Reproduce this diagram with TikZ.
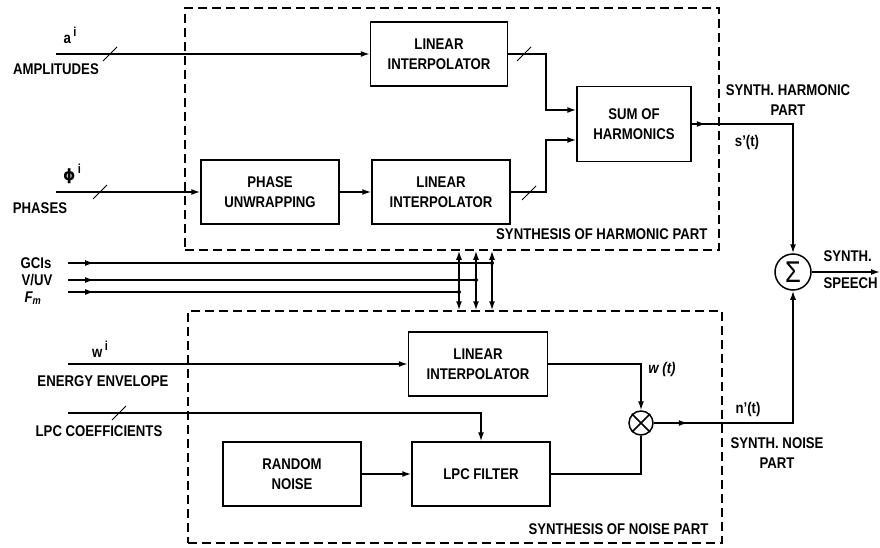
\documentclass[tikz,border=0pt]{standalone}
\usepackage{fontspec}
\setmainfont{Liberation Sans}[FakeStretch=0.85]
\newfontfamily\grkfont{DejaVu Sans}
\usetikzlibrary{arrows.meta,decorations.markings}

\newcommand{\upi}{\,\raisebox{7pt}{\fontsize{13}{13}\selectfont i}}
\tikzset{
  blk/.style={draw,line width=1.5pt,align=center,minimum width=138pt,minimum height=64pt,inner sep=0pt},
  grp/.style={draw,line width=1.5pt,dash pattern=on 9pt off 5pt,inner sep=0pt},
  wire/.style={line width=1.5pt},
  sig/.style={wire,-{Latex[length=9pt,width=6pt]}},
  ctrl/.style={wire,{Latex[length=9pt,width=6pt]}-{Latex[length=9pt,width=6pt]}},
  midarrow/.style={postaction={decorate},decoration={markings,mark=at position #1 with {\arrow{Latex[length=9pt,width=6pt]}}}},
  junc/.style={circle,fill,inner sep=0pt,minimum size=4pt},
}

\begin{document}
\begin{tikzpicture}[x=1pt,y=-1pt,every node/.style={font=\bfseries\fontsize{15.5}{20}\selectfont}]
\useasboundingbox (0,0) rectangle (880,548);

\node[grp,minimum width=534pt,minimum height=242pt] (harm) at (452,129) {};
\node[grp,minimum width=534pt,minimum height=232pt] (noise) at (455,427) {};
\node[anchor=east] (harmlab) at (711,234) {SYNTHESIS OF HARMONIC PART};
\node[anchor=east] (noiselab) at (712,529) {SYNTHESIS OF NOISE PART};

\node[blk,minimum width=137pt] (li1) at (439,54) {LINEAR\\INTERPOLATOR};
\node[blk] (pu) at (270,192) {PHASE\\UNWRAPPING};
\node[blk] (li2) at (441,192) {LINEAR\\INTERPOLATOR};
\node[blk,minimum width=114pt,minimum height=75pt] (sum) at (634,124) {SUM OF\\HARMONICS};
\node[blk,minimum width=139pt] (li3) at (478,364) {LINEAR\\INTERPOLATOR};
\node[blk] (lpc) at (481,474) {LPC FILTER};
\node[blk] (rnd) at (292,474) {RANDOM\\NOISE};

\node[draw,circle,line width=1.5pt,minimum size=36pt,inner sep=0pt] (sigma) at (793,272) {\mdseries\fontsize{30}{30}\selectfont Σ};
\node[draw,circle,line width=1.5pt,minimum size=24pt,inner sep=0pt] (mult) at (641,423) {};
\draw[wire] (mult.45) -- (mult.225) (mult.135) -- (mult.315);

\node (alab) at (70,35) {a\upi};
\node (amplab) at (56,69) {AMPLITUDES};
\node (philab) at (72,174) {{\grkfont\bfseries ϕ}\upi};
\node (phaselab) at (40,208) {PHASES};
\node (gcilab) at (36,263) {GCIs};
\node (vuvlab) at (37,280) {V/UV};
\node (fmlab) at (33,298) {\itshape F\textsubscript{m}};
\node (wlab) at (100,349) {w\upi};
\node (enlab) at (103,381) {ENERGY ENVELOPE};
\node (lpclab) at (99,431) {LPC COEFFICIENTS};

\node[align=center] (harmout) at (788,100) {SYNTH. HARMONIC\\PART};
\node (slab) at (747,142) {s'(t)};
\node[align=center] (noiseout) at (777,453) {SYNTH. NOISE\\PART};
\node (nlab) at (748,409) {n'(t)};
\node (wtlab) at (662,369) {\itshape w (t)};
\node[anchor=west] (synlab) at (820,256) {SYNTH.};
\node[anchor=west] (speechlab) at (820,283) {SPEECH};

\coordinate (ampin) at (56,54);
\coordinate (phasein) at (56,192);
\coordinate (gciin) at (68,263);
\coordinate (vuvin) at (68,280);
\coordinate (fmin) at (68,292);
\coordinate (gciend) at (492,263);
\coordinate (vuvend) at (476,280);
\coordinate (fmend) at (459,292);
\coordinate (enin) at (68,364);
\coordinate (lpcin) at (68,413);
\coordinate (k1) at (546,110);
\coordinate (k2) at (546,140);
\coordinate (out) at (880,272);

\draw[sig] (ampin) -- (li1.west);
\draw[sig] (phasein) -- (pu.west);
\draw[sig] (pu.east) -- (li2.west);
\draw[sig] (li1.east) -| (k1) -- (k1 -| sum.west);
\draw[sig] (li2.east) -| (k2) -- (k2 -| sum.west);
\draw[sig,midarrow=14pt] (sum.east) -| (sigma.north);
\draw[sig] (sigma.east) -- (out);

\draw[wire,midarrow=26pt] (gciin) -- (gciend);
\draw[wire,midarrow=26pt] (vuvin) -- (vuvend);
\draw[wire,midarrow=26pt] (fmin) -- (fmend);
\foreach \j in {gciend,vuvend,fmend} {
  \node[junc] at (\j) {};
  \draw[ctrl] (harm.south -| \j) -- (noise.north -| \j);
}

\draw[sig] (enin) -- (li3.west);
\draw[sig] (lpcin) -| (lpc.north);
\draw[sig] (rnd.east) -- (lpc.west);
\draw[sig] (li3.east) -| (mult.north);
\draw[wire] (lpc.east) -| (mult.south);
\draw[sig,midarrow=34pt] (mult.east) -| (sigma.south);

\foreach \x/\y in {110/54,100/192,524/54,529/193,119/413}
  \draw[wire,line width=1pt] (\x,\y) ++(-7,7) -- ++(14,-14);
\end{tikzpicture}
\end{document}
